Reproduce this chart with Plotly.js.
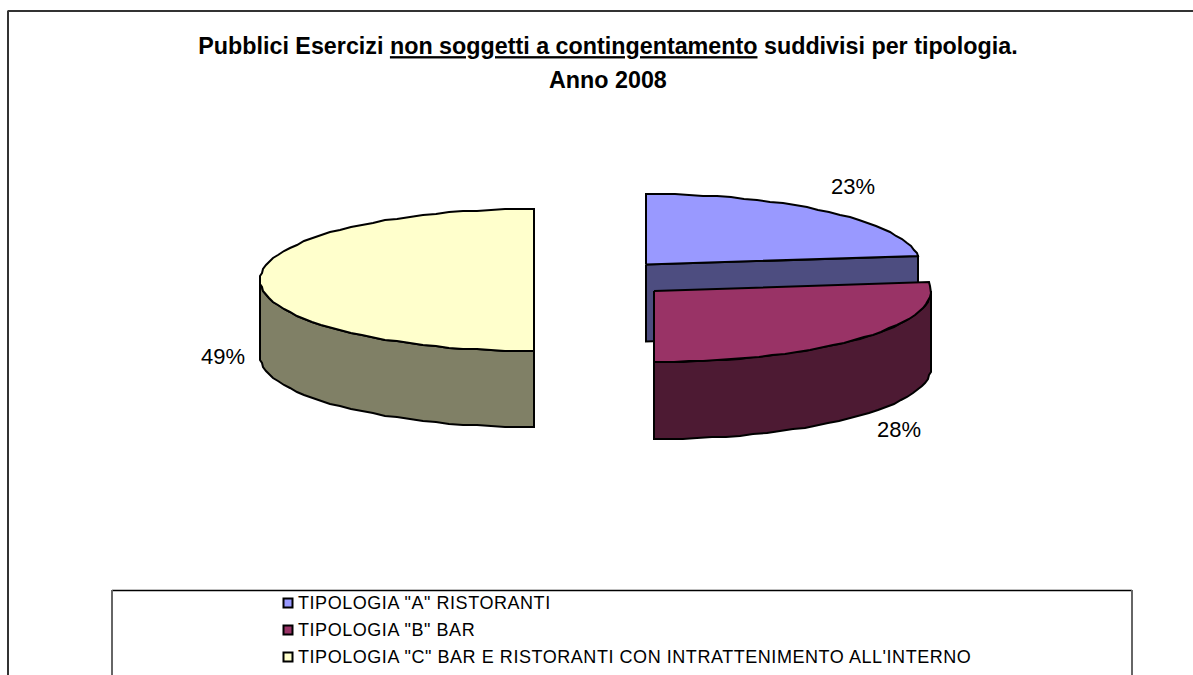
<!DOCTYPE html>
<html><head><meta charset="utf-8">
<script src="https://cdn.plot.ly/plotly-3.0.1.min.js"></script>
<style>html,body{margin:0;padding:0;background:#fff;overflow:hidden}#c{width:1193px;height:675px}</style>
</head><body><div id="c"></div>
<script>
const categories = ['TIPOLOGIA "A" RISTORANTI', 'TIPOLOGIA "B" BAR', 'TIPOLOGIA "C" BAR E RISTORANTI CON INTRATTENIMENTO ALL\'INTERNO'];
const shares = [23, 28, 49];
const topColors = ['#9999FF', '#993366', '#FFFFCC'];
const wallColors = ['#4D4D80', '#4D1A33', '#808066'];

// exploded pseudo-3D layout of each slice on the page
const discs = [
  {cx: 646, cy: 264.5, rx: 274, ry: 70.5, depth: 77, lx: 853, ly: 186},
  {cx: 654, cy: 291, rx: 277, ry: 71, depth: 77, lx: 899, ly: 429},
  {cx: 534, cy: 280, rx: 274, ry: 71, depth: 76, lx: 223, ly: 356}
];
const SNAP_DEG = 4; // the renderer squares off cuts that fall this close to a quarter turn
const STEP_DEG = 3;

const total = shares.reduce((a, b) => a + b, 0);
function snap(d) {
  const q = Math.round(d / 90) * 90;
  return Math.abs(q - d) <= SNAP_DEG ? q : d;
}
let run = 0;
const spans = shares.map(v => {
  const from = snap(run / total * 360);
  run += v;
  return [from, snap(run / total * 360)];
});
const pt = (g, deg, drop) => {
  const r = deg * Math.PI / 180;
  return [Math.round(g.cx + g.rx * Math.sin(r)), Math.round(g.cy - g.ry * Math.cos(r) + (drop || 0))];
};
function arc(g, a, b, drop) {
  const out = [];
  for (let d = a; d < b; d += STEP_DEG) out.push(pt(g, d, drop));
  out.push(pt(g, b, drop));
  return out;
}
function poly(points, fill, name) {
  const closed = points.concat([points[0]]);
  return {type: 'scatter', mode: 'lines', x: closed.map(p => p[0]), y: closed.map(p => p[1]),
    fill: 'toself', fillcolor: fill, line: {color: '#000', width: 2}, hoverinfo: 'skip', name, showlegend: false};
}
const traces = [];
shares.forEach((v, i) => {
  const g = discs[i], [a, b] = spans[i], c = [g.cx, g.cy];
  const lowCx = [g.cx, g.cy + g.depth];
  if (i === 0) { // cut face towards the viewer
    traces.push(poly([c, pt(g, b), pt(g, b, g.depth), lowCx], wallColors[i], categories[i] + ' wall'));
  } else {
    const wa = Math.max(a, 90), wb = Math.min(b, 270);
    const front = arc(g, wa, wb), back = arc(g, wa, wb, g.depth).reverse();
    traces.push(poly(front.concat(back), wallColors[i], categories[i] + ' wall'));
    if (i === 1) traces.push(poly([c, pt(g, b), pt(g, b, g.depth), lowCx], wallColors[i], categories[i] + ' cut'));
  }
  traces.push(poly([c].concat(arc(g, a, b)), topColors[i], categories[i]));
});
traces.push({type: 'scatter', mode: 'markers', x: categories.map(() => 288), y: categories.map((_, i) => 603 + i * 27),
  marker: {symbol: 'square', size: 9, color: topColors, line: {color: '#000', width: 2}}, hoverinfo: 'skip', showlegend: false});

const FONT = '"Liberation Sans", Arial, sans-serif';
const annotations = shares.map((v, i) => ({
  xref: 'x', yref: 'y', x: discs[i].lx, y: discs[i].ly, text: Math.round(v / total * 100) + '%',
  showarrow: false, font: {family: FONT, size: 22, color: '#000'}
}));
annotations.push({xref: 'x', yref: 'y', x: 608, y: 80, text: '<b>Anno 2008</b>', showarrow: false,
  font: {family: FONT, size: 23.3, color: '#000'}});
categories.forEach((c, i) => annotations.push({xref: 'x', yref: 'y', x: 296, y: 603 + i * 27, xanchor: 'left',
  text: '<span style="letter-spacing:0.55px">' + c + '</span>',
  showarrow: false, font: {family: FONT, size: 18, color: '#000'}}));

const edge = (x0, y0, x1, y1, color, width) => ({type: 'line', xref: 'x', yref: 'y', x0, y0, x1, y1, line: {color, width}, layer: 'below'});
const layout = {
  width: 1193, height: 675, margin: {l: 0, r: 0, t: 0, b: 0}, paper_bgcolor: '#fff', plot_bgcolor: '#fff', showlegend: false,
  title: {text: '<b>Pubblici Esercizi <u>non soggetti a contingentamento</u> suddivisi per tipologia.</b>',
    x: 608 / 1193, xanchor: 'center', y: 1 - 46 / 675, yanchor: 'middle', font: {family: FONT, size: 23.3, color: '#000'}},
  xaxis: {range: [0, 1193], visible: false, fixedrange: true},
  yaxis: {range: [675, 0], visible: false, fixedrange: true},
  annotations,
  shapes: [
    edge(7.5, 11, 1193, 11, '#333', 2), edge(8, 11, 8, 675, '#333', 2),
    edge(112, 590.5, 1132, 590.5, '#000', 1.5), edge(112, 590, 112, 675, '#666', 2), edge(1132, 590, 1132, 675, '#666', 2)
  ]
};
Plotly.newPlot('c', traces, layout, {displayModeBar: false, staticPlot: true});
</script></body></html>
